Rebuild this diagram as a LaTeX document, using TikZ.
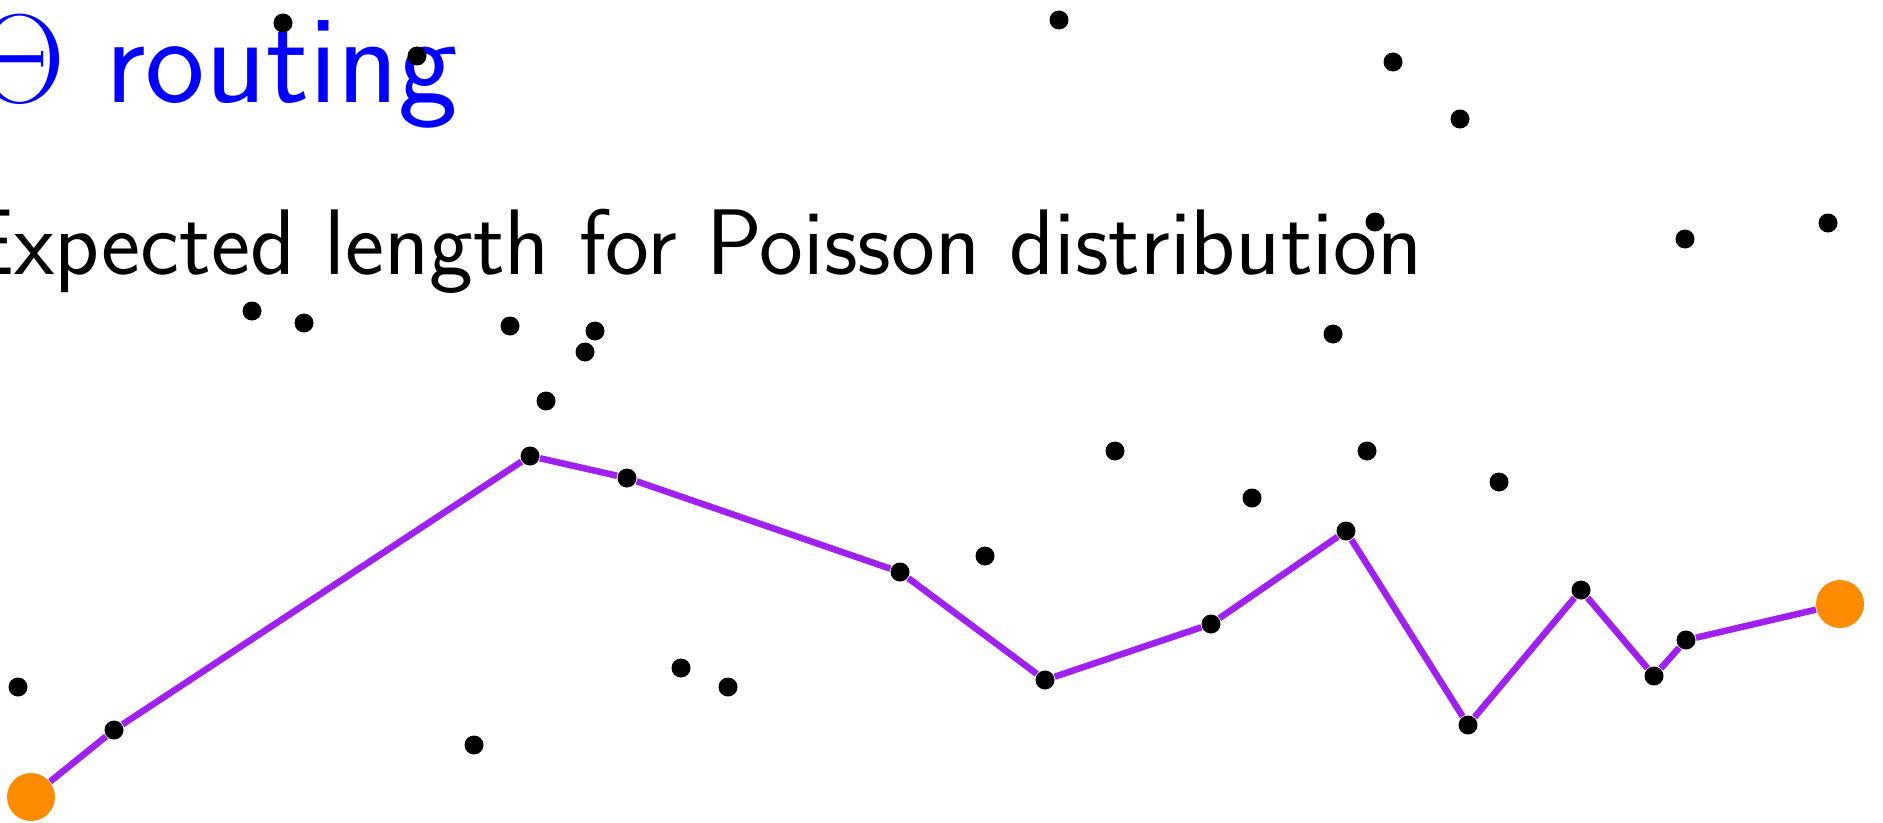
\RequirePackage{fix-cm}
\documentclass[tikz,border=0pt]{standalone}
\usepackage{amsmath}
\usepackage[no-math]{fontspec}
\usepackage{tikz}
\usetikzlibrary{positioning, calc}

\definecolor{routepurple}{HTML}{A020F0}
\definecolor{endorange}{HTML}{FF8C00}
\definecolor{slideblue}{HTML}{0000FF}

\begin{document}
\begin{tikzpicture}[
    dot/.style={
        circle, fill=black, minimum size=0.19cm, inner sep=0pt
    },
    terminal/.style={
        circle, fill=endorange, minimum size=0.48cm, inner sep=0pt
    },
    route/.style={draw=routepurple, line width=0.065cm},
    slidetitle/.style={font=\fontsize{36}{42}\selectfont\sffamily, text=slideblue, inner sep=0pt},
    slidetext/.style={font=\fontsize{26.5}{32}\selectfont\sffamily, inner sep=0pt},
]
\useasboundingbox (0,0) rectangle (18.83,8.22);

% Texts
\node[slidetitle, anchor=base east] (title) at (4.59, 7.19) {$\Theta$ routing};
\node[slidetext, anchor=base east] (subtitle) at (14.23, 5.48) {Expected length for Poisson distribution};

% Points not on the route
\node[dot] (q1) at (2.83, 7.99) {};
\node[dot] (q2) at (4.17, 7.66) {};
\node[dot] (q3) at (10.59, 8.02) {};
\node[dot] (q4) at (13.93, 7.60) {};
\node[dot] (q5) at (14.60, 7.03) {};
\node[dot] (q6) at (13.75, 6.00) {};
\node[dot] (q7) at (16.85, 5.83) {};
\node[dot] (q8) at (18.28, 5.99) {};
\node[dot] (q9) at (2.52, 5.11) {};
\node[dot] (q10) at (3.04, 4.99) {};
\node[dot] (q11) at (5.10, 4.96) {};
\node[dot] (q12) at (5.95, 4.91) {};
\node[dot] (q13) at (5.85, 4.70) {};
\node[dot] (q14) at (5.46, 4.21) {};
\node[dot] (q15) at (13.33, 4.88) {};
\node[dot] (q16) at (11.15, 3.71) {};
\node[dot] (q17) at (13.67, 3.71) {};
\node[dot] (q18) at (14.99, 3.40) {};
\node[dot] (q19) at (12.52, 3.24) {};
\node[dot] (q20) at (9.85, 2.66) {};
\node[dot] (q21) at (0.18, 1.35) {};
\node[dot] (q22) at (6.81, 1.54) {};
\node[dot] (q23) at (7.28, 1.35) {};
\node[dot] (q24) at (4.74, 0.77) {};

% Points on the route
\node[terminal] (s) at (0.31, 0.25) {};
\node[dot] (p1) at (1.14, 0.92) {};
\node[dot] (p2) at (5.30, 3.66) {};
\node[dot] (p3) at (6.27, 3.44) {};
\node[dot] (p4) at (9.00, 2.50) {};
\node[dot] (p5) at (10.45, 1.42) {};
\node[dot] (p6) at (12.11, 1.98) {};
\node[dot] (p7) at (13.46, 2.91) {};
\node[dot] (p8) at (14.68, 0.97) {};
\node[dot] (p9) at (15.81, 2.32) {};
\node[dot] (p10) at (16.54, 1.46) {};
\node[dot] (p11) at (16.86, 1.82) {};
\node[terminal] (t) at (18.40, 2.18) {};

% Route
\draw[route] (s) -- (p1) -- (p2) -- (p3) -- (p4) -- (p5) -- (p6)
    -- (p7) -- (p8) -- (p9) -- (p10) -- (p11) -- (t);

\end{tikzpicture}
\end{document}
